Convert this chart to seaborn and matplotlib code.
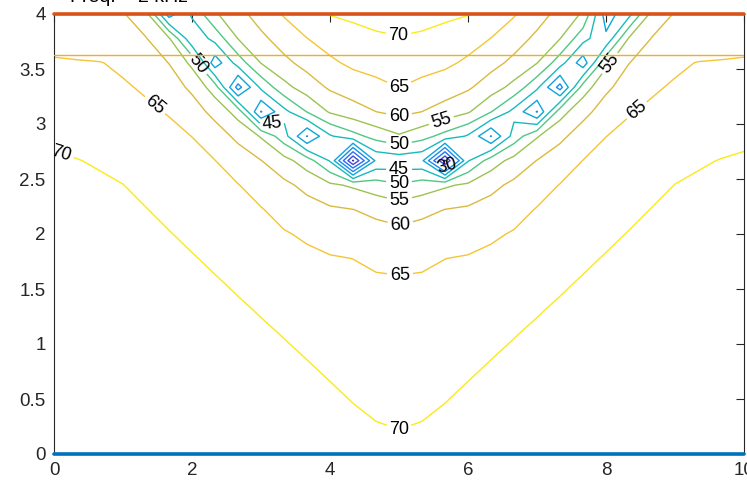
import numpy as np
import matplotlib
matplotlib.use("Agg")
import matplotlib.pyplot as plt
from matplotlib.colors import LinearSegmentedColormap, Normalize
from matplotlib.ticker import FuncFormatter
import seaborn as sns

sns.set_theme(style="white")
plt.rcParams['font.family'] = ['Liberation Sans', 'DejaVu Sans']

# ---------------- data ----------------
# computation mesh (MATLAB grid)
x_nodes = np.linspace(0, 10, 31)
y_nodes = np.linspace(0, 4, 19)

# centre of the arc pattern and its value
center_x, center_y, center_value = 5.0, 4.0, 72.0

# contour traces (left half, x <= 5), from the centre outward
inner70_x = [5.0, 4.5, 4.2, 3.9]
inner70_y = [3.80, 3.83, 3.90, 4.0]
inner65_x = [5.0, 4.19, 3.4, 3.28]
inner65_y = [3.33, 3.51, 3.92, 4.0]
inner60_x = [5.0, 4.12, 3.26, 2.80]
inner60_y = [3.04, 3.23, 3.65, 4.0]
inner55_x = [5.0, 4.07, 3.15, 2.69, 2.36]
inner55_y = [2.90, 3.06, 3.45, 3.75, 4.0]
inner50_x = [5.0, 4.04, 3.09, 2.62, 2.14]
inner50_y = [2.80, 2.95, 3.35, 3.64, 4.0]
inner45_x = [5.0, 4.03, 3.06, 2.57, 2.08, 1.97]
inner45_y = [2.77, 2.90, 3.28, 3.57, 3.92, 4.0]
ridge_x = [5.0, 4.333, 4.0, 3.5, 3.0, 2.5, 2.0, 1.75]
ridge_y = [2.64, 2.697, 2.769, 2.93, 3.156, 3.446, 3.801, 4.0]
ridge_value = 41.0
outer45_x = [5.0, 3.97, 2.95, 2.44, 1.94, 1.61]
outer45_y = [2.53, 2.66, 3.06, 3.36, 3.72, 4.0]
outer50_x = [5.0, 3.96, 2.93, 2.42, 1.92, 1.54]
outer50_y = [2.46, 2.61, 3.02, 3.32, 3.69, 4.0]
outer55_x = [5.0, 3.93, 2.88, 2.37, 1.87, 1.43]
outer55_y = [2.32, 2.49, 2.93, 3.25, 3.63, 4.0]
outer60_x = [5.0, 3.88, 2.80, 2.27, 1.75, 1.14]
outer60_y = [2.12, 2.30, 2.76, 3.09, 3.48, 4.0]
outer65_x = [5.0, 4.72, 4.0, 3.38, 2.4, 1.49, 0.67, 0.0]
outer65_y = [1.69, 1.70, 1.84, 2.04, 2.64, 3.20, 3.68, 3.60]
outer70_x = [5.0, 4.6, 3.2, 1.68, 0.81, 0.0]
outer70_y = [0.22, 0.30, 1.14, 2.04, 2.58, 2.78]

# values along the plot border
left_edge_y = [0.0, 2.78, 3.60, 4.0]
left_edge_v = [80.0, 70.0, 65.0, 63.0]
bottom_edge_x = [0.0, 5.0]
bottom_edge_v = [80.0, 70.6]

# local minima (diamonds) on the arc
dip_x = [4.333, 3.667, 3.0, 2.667, 2.333, 2.0, 1.667,
         5.667, 6.333, 7.0, 7.333, 7.667, 8.0, 8.0]
dip_y = [2.667, 2.889, 3.111, 3.333, 3.556, 3.778, 4.0,
         2.667, 2.889, 3.111, 3.333, 3.556, 3.778, 4.0]
dip_v = [19.5, 34.8, 34.7, 33.0, 37.0, 41.0, 37.5,
         19.5, 34.8, 34.7, 33.0, 37.0, 41.0, 37.5]

contour_levels = [20, 25, 30, 35, 40, 45, 50, 55, 60, 65, 70]

# extra horizontal lines
line_x = [0.0, 10.0]
line_bottom_y = [0.0, 0.0]
line_top_y = [4.0, 4.0]
line_mid_y = [3.625, 3.625]

# ---------------- build the field ----------------
curves = [
    (inner70_x, inner70_y, 70.0), (inner65_x, inner65_y, 65.0),
    (inner60_x, inner60_y, 60.0), (inner55_x, inner55_y, 55.0),
    (inner50_x, inner50_y, 50.0), (inner45_x, inner45_y, 45.0),
    (ridge_x, ridge_y, ridge_value),
    (outer45_x, outer45_y, 45.0),
    (outer50_x, outer50_y, 50.0), (outer55_x, outer55_y, 55.0),
    (outer60_x, outer60_y, 60.0), (outer65_x, outer65_y, 65.0),
    (outer70_x, outer70_y, 70.0),
]


def ray_hit(px, py, ux, uy):
    best = None
    for k in range(len(px) - 1):
        ax_, ay_ = px[k], py[k]
        ex, ey = px[k + 1] - ax_, py[k + 1] - ay_
        det = -ux * ey + ex * uy
        if abs(det) < 1e-12:
            continue
        wx, wy = ax_ - center_x, ay_ - center_y
        d = (-wx * ey + ex * wy) / det
        s = (ux * wy - uy * wx) / det
        if -1e-9 <= s <= 1 + 1e-9 and d > 0:
            if best is None or d < best:
                best = d
    return best


X, Y = np.meshgrid(x_nodes, y_nodes)
Z = np.zeros_like(X)
for j, yv in enumerate(y_nodes):
    for i, xv in enumerate(x_nodes):
        xl = center_x - abs(xv - center_x)
        vx, vy = xl - center_x, yv - center_y
        d = np.hypot(vx, vy)
        if d < 1e-9:
            Z[j, i] = center_value
            continue
        ux, uy = vx / d, vy / d
        ds, vs = [0.0], [center_value]
        for cxs, cys, lv in curves:
            h = ray_hit(cxs, cys, ux, uy)
            if h is not None:
                ds.append(h)
                vs.append(lv)
        tx = (0 - center_x) / ux if ux < -1e-12 else np.inf
        ty = (0 - center_y) / uy if uy < -1e-12 else np.inf
        if tx <= ty:
            ds.append(tx)
            vs.append(np.interp(center_y + tx * uy, left_edge_y, left_edge_v))
        else:
            ds.append(ty)
            vs.append(np.interp(center_x + ty * ux, bottom_edge_x, bottom_edge_v))
        order = np.argsort(ds)
        Z[j, i] = np.interp(d, np.array(ds)[order], np.array(vs)[order])

for xd, yd, vd in zip(dip_x, dip_y, dip_v):
    i = int(np.argmin(np.abs(x_nodes - xd)))
    j = int(np.argmin(np.abs(y_nodes - yd)))
    Z[j, i] = vd

# ---------------- parula-like colormap ----------------
parula = LinearSegmentedColormap.from_list("parula", [
    (0.00, (0.21, 0.17, 0.53)), (0.10, (0.26, 0.28, 0.85)),
    (0.20, (0.16, 0.43, 0.98)), (0.30, (0.10, 0.56, 0.92)),
    (0.40, (0.05, 0.66, 0.85)), (0.50, (0.10, 0.74, 0.72)),
    (0.60, (0.36, 0.79, 0.47)), (0.70, (0.68, 0.76, 0.27)),
    (0.80, (0.92, 0.72, 0.24)), (0.90, (0.98, 0.80, 0.19)),
    (1.00, (0.98, 0.98, 0.05))])
norm = Normalize(19.5, 72.0)

# ---------------- plot ----------------
fig = plt.figure(figsize=(7.47, 4.84), dpi=100)
ax = fig.add_axes([54 / 747, 30 / 484, 690 / 747, 440 / 484])

label_spots = {
    70: [(5.0, 3.82), (5.0, 0.2), (0.12, 2.76)],
    65: [(5.0, 3.33), (5.0, 1.69), (1.49, 3.19), (8.45, 3.12)],
    60: [(5.0, 3.04), (5.0, 2.12)],
    55: [(5.0, 2.32), (5.67, 2.92), (8.0, 3.58)],
    50: [(5.0, 2.78), (5.0, 2.46), (2.12, 3.56)],
    45: [(5.0, 2.63), (3.16, 3.02)],
    30: [(5.67, 2.64)],
}
for lv in contour_levels:
    cs = ax.contour(X, Y, Z, levels=[lv], colors=[parula(norm(lv))],
                    linewidths=1.0)
    if lv in label_spots:
        ax.clabel(cs, inline=True, fmt='%d', fontsize=13,
                  manual=label_spots[lv], colors='black', inline_spacing=3)

sns.lineplot(x=line_x, y=line_bottom_y, ax=ax, color=(0.0, 0.447, 0.741),
             linewidth=2.6, clip_on=False, zorder=5)
sns.lineplot(x=line_x, y=line_top_y, ax=ax, color=(0.851, 0.325, 0.098),
             linewidth=2.6, clip_on=False, zorder=5)
sns.lineplot(x=line_x, y=line_mid_y, ax=ax, color=(0.929, 0.694, 0.125),
             linewidth=1.0, zorder=4)

ax.set_xlim(0, 10)
ax.set_ylim(0, 4)
ax.set_xticks(np.arange(0, 11, 2))
ax.set_yticks(np.arange(0, 4.01, 0.5))
fmt = FuncFormatter(lambda v, p: f"{v:g}")
ax.xaxis.set_major_formatter(fmt)
ax.yaxis.set_major_formatter(fmt)
axis_col = (0.15, 0.15, 0.15)
ax.tick_params(direction='in', length=6, width=0.8, colors=axis_col,
               labelsize=13.5, top=True, right=True, pad=6)
ax.tick_params(axis='x', labeltop=False, labelbottom=True)
for sp in ax.spines.values():
    sp.set_color(axis_col)
    sp.set_linewidth(0.8)
ax.set_xlabel("")
ax.set_ylabel("")
ax.grid(False)

fig.text(70 / 747, 1.0 + 2.5 / 484, "Freq. = 2 kHz", fontsize=14, color='black',
         ha='left', va='center',
         bbox=dict(facecolor='white', edgecolor='none', pad=3))

fig.savefig("out.png", dpi=100)
